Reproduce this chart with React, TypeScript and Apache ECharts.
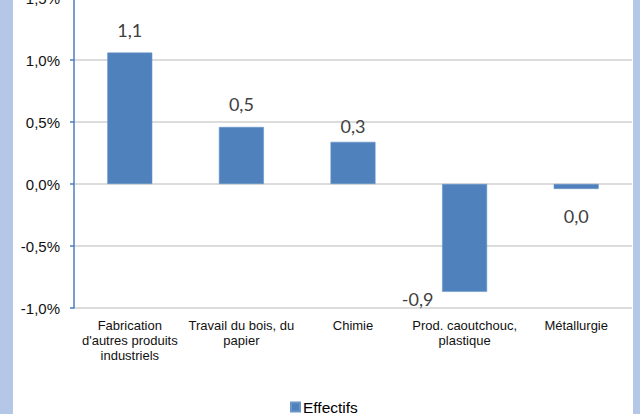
import React, { useEffect, useRef } from "react";
import * as echarts from "echarts";

// Evolution des effectifs par secteur (en %)
const categories = [
  "Fabrication\nd'autres produits\nindustriels",
  "Travail du bois, du\npapier",
  "Chimie",
  "Prod. caoutchouc,\nplastique",
  "Métallurgie",
];
const seriesName = "Effectifs";
const effectifs = [1.06, 0.46, 0.34, -0.87, -0.04];
const yMin = -1;
const yMax = 1.5;
const yStep = 0.5;

const BAR = "#4f81bd";

const fmtComma = (v: number) => (Math.round(v * 10) / 10).toFixed(1).replace(".", ",");

// label placement for each bar (outside end, with a few hand-moved ones)
const labelPlacement = [
  { position: "top", distance: 12.5, offset: [0, 0] },
  { position: "top", distance: 12.5, offset: [0, 0] },
  { position: "top", distance: 5.5, offset: [0, 0] },
  { position: "bottom", distance: 5, offset: [-47, -8.5] },
  { position: "bottom", distance: 16.5, offset: [0, 0] },
];

export default function App() {
  const ref = useRef<HTMLDivElement>(null);

  useEffect(() => {
    if (!ref.current) return;
    const chart = echarts.init(ref.current, undefined, { renderer: "svg" });
    chart.setOption({
      animation: false,
      backgroundColor: "transparent",
      grid: { left: 74, right: 8, top: -2, bottom: 106, outerBoundsMode: "none", containLabel: false },
      legend: {
        data: [seriesName],
        left: 290,
        top: 399,
        padding: 0,
        icon: "rect",
        itemWidth: 9,
        itemHeight: 9,
        itemGap: 4,
        textStyle: {
          fontFamily: "Liberation Sans, Arial, sans-serif",
          fontSize: 15.5,
          color: "#000",
          padding: [0, 0, 0, -2],
        },
      },
      xAxis: {
        type: "category",
        data: categories,
        axisLine: { show: false },
        axisTick: { show: false },
        axisLabel: {
          interval: 0,
          margin: 10,
          fontFamily: "Liberation Sans, Arial, sans-serif",
          fontSize: 13,
          lineHeight: 15,
          color: "#111",
          align: "center",
        },
      },
      yAxis: {
        type: "value",
        min: yMin,
        max: yMax,
        interval: yStep,
        axisLine: { show: true, lineStyle: { color: "#4a7ebb", width: 1.5 } },
        axisTick: { show: true, length: 4, lineStyle: { color: "#4a7ebb", width: 1.5 } },
        splitLine: { show: true, lineStyle: { color: "#dcdcdc", width: 2 } },
        axisLabel: {
          margin: 14,
          fontFamily: "Liberation Sans, Arial, sans-serif",
          fontSize: 15,
          color: "#111",
          formatter: (v: number) => fmtComma(v) + "%",
        },
      },
      series: [
        {
          name: seriesName,
          type: "bar",
          barWidth: 45,
          itemStyle: { color: BAR, borderColor: "#6a95c8", borderWidth: 0.6 },
          data: effectifs.map((v, i) => ({
            value: v,
            label: {
              show: true,
              position: labelPlacement[i].position,
              distance: labelPlacement[i].distance,
              offset: labelPlacement[i].offset,
              formatter: () => fmtComma(v),
              fontFamily: "Lato, Open Sans, sans-serif",
              fontSize: 18,
              lineHeight: 21,
              color: "#404040",
            },
          })),
        },
      ],
    });
    return () => chart.dispose();
  }, []);

  return (
    <div
      style={{
        position: "fixed",
        left: 0,
        top: 0,
        width: 640,
        height: 414,
        background: "#b4c7e7",
        overflow: "hidden",
      }}
    >
      <div
        style={{
          position: "absolute",
          left: 13,
          top: 0,
          width: 620,
          height: 414,
          background: "#ffffff",
        }}
      />
      <div ref={ref} style={{ position: "absolute", left: 0, top: 0, width: 640, height: 414 }} />
    </div>
  );
}
